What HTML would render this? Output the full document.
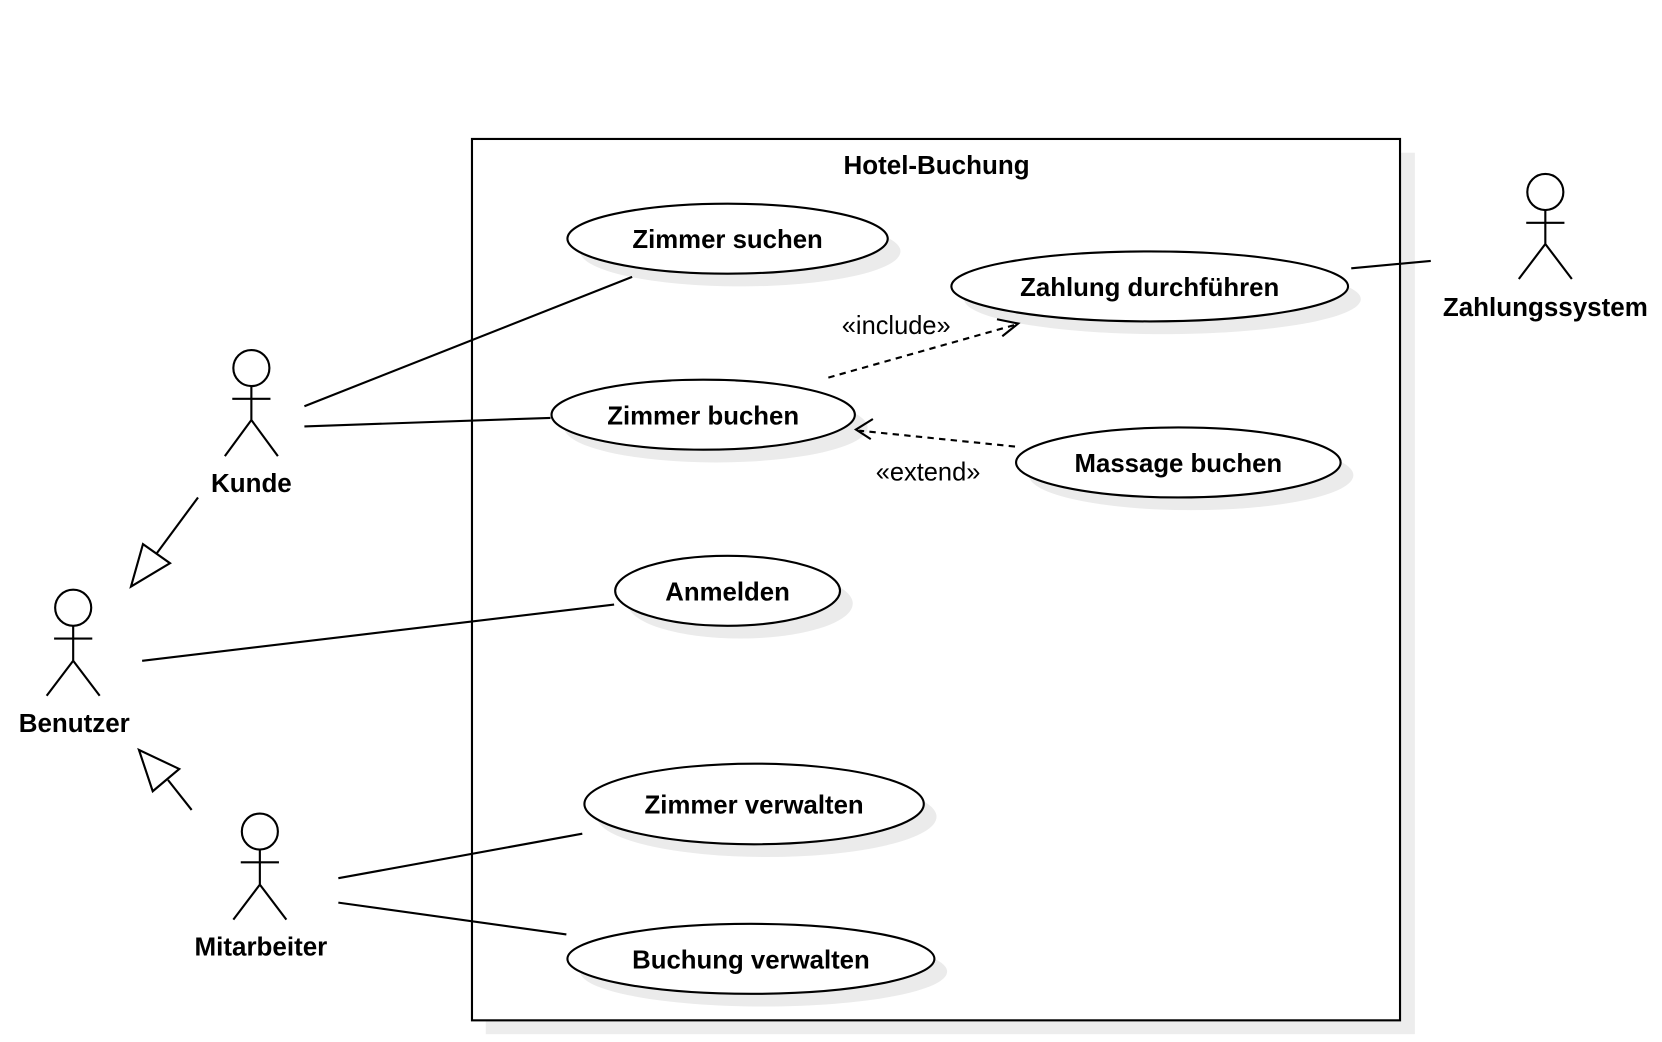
<!DOCTYPE html>
<html><head><meta charset="utf-8"><style>html,body{margin:0;padding:0;background:#fff}svg{display:block}</style></head><body>
<svg width="1662" height="1042" viewBox="0 0 1567 982.4" xmlns="http://www.w3.org/2000/svg" font-family="Liberation Sans, sans-serif">
<rect x="0" y="0" width="1567" height="983" fill="#fff"/>
<rect x="458" y="144" width="876" height="831" fill="#ededed"/>
<rect x="445" y="131" width="875" height="831" fill="#fff" stroke="#000" stroke-width="2"/>
<text x="883" y="164" font-size="24.5" font-weight="bold" text-anchor="middle">Hotel-Buchung</text>
<g fill="#ebebeb">
<ellipse cx="698" cy="237" rx="151" ry="33"/>
<ellipse cx="1096" cy="282" rx="187" ry="33"/>
<ellipse cx="675" cy="403" rx="143" ry="33"/>
<ellipse cx="1123" cy="448" rx="153" ry="33"/>
<ellipse cx="698" cy="569" rx="106" ry="33"/>
<ellipse cx="723" cy="770" rx="160" ry="38"/>
<ellipse cx="720" cy="916" rx="173" ry="33"/>
</g>
<g fill="#fff" stroke="#000" stroke-width="2">
<ellipse cx="686" cy="225" rx="151" ry="33"/>
<ellipse cx="1084" cy="270" rx="187" ry="33"/>
<ellipse cx="663" cy="391" rx="143" ry="33"/>
<ellipse cx="1111" cy="436" rx="153" ry="33"/>
<ellipse cx="686" cy="557" rx="106" ry="33"/>
<ellipse cx="711" cy="758" rx="160" ry="38"/>
<ellipse cx="708" cy="904" rx="173" ry="33"/>
</g>
<g font-size="24.3" font-weight="bold" text-anchor="middle">
<text x="686" y="234">Zimmer suchen</text>
<text x="1084" y="279">Zahlung durchführen</text>
<text x="663" y="400">Zimmer buchen</text>
<text x="1111" y="445">Massage buchen</text>
<text x="686" y="566">Anmelden</text>
<text x="711" y="767">Zimmer verwalten</text>
<text x="708" y="913">Buchung verwalten</text>
</g>
<g stroke="#000" stroke-width="2" fill="none">
<line x1="287" y1="383" x2="596" y2="261"/>
<line x1="287" y1="402" x2="519" y2="394"/>
<line x1="134" y1="623" x2="579" y2="570"/>
<line x1="319" y1="828" x2="549" y2="786"/>
<line x1="319" y1="851" x2="534" y2="881"/>
<line x1="1274" y1="253" x2="1349" y2="246"/>
<line x1="186.7" y1="469" x2="148" y2="521.4"/>
<polygon points="123.5,553 134.8,513 160.3,531" fill="#fff"/>
<line x1="180.7" y1="763.6" x2="158.4" y2="735.4"/>
<polygon points="131,707 144,746 169,725" fill="#fff"/>
<line x1="781" y1="356" x2="958" y2="306" stroke-dasharray="6,5"/>
<polyline points="940,301 960,305 945,317"/>
<line x1="957" y1="421" x2="810" y2="406" stroke-dasharray="6,5"/>
<polyline points="823,395 807,405 821,414"/>
</g>
<g font-size="24" text-anchor="middle">
<text x="845" y="315">«include»</text>
<text x="875" y="453">«extend»</text>
</g>
<g stroke="#000" stroke-width="2" fill="#fff">
<circle cx="237" cy="347" r="17"/><path d="M237 364V396M219 376H255M212 430L237 396L262 430" fill="none"/>
<circle cx="69" cy="573" r="17"/><path d="M69 590V623M51 602H87M44 656L69 623L94 656" fill="none"/>
<circle cx="245" cy="784" r="17"/><path d="M245 801V834M227 813H263M220 867L245 834L270 867" fill="none"/>
<circle cx="1457" cy="181" r="17"/><path d="M1457 198V230M1439 210H1475M1432 263L1457 230L1482 263" fill="none"/>
</g>
<g font-size="24.5" font-weight="bold" text-anchor="middle">
<text x="237" y="464">Kunde</text>
<text x="70" y="690">Benutzer</text>
<text x="246" y="901">Mitarbeiter</text>
<text x="1457" y="298">Zahlungssystem</text>
</g>
</svg>
</body></html>
